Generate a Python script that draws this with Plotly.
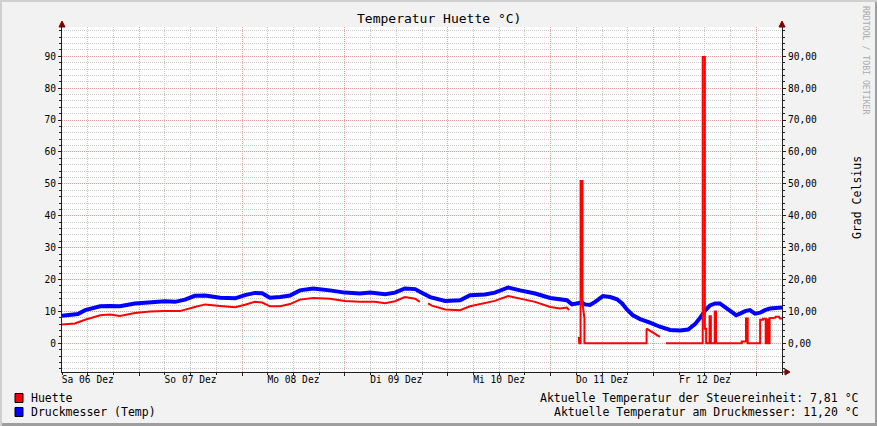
import plotly.graph_objects as go

# ---------------- data (x = hours since Sa 06 Dez 00:00) ----------------
huette_h = [6.0, 9.0, 11.4, 14.9, 17.2, 19.5, 23.0, 26.5, 30.0, 33.5, 37.0, 39.4, 42.9, 46.4,
            48.7, 51.0, 52.7, 54.5, 56.9, 59.2, 61.5, 64.6, 68.5, 72.0, 75.5, 79.0, 81.4,
            83.7, 86.0, 88.4, 89.5, None,
            91.4, 92.3, 95.4, 98.9, 101.2, 104.7, 107.0, 110.1, 112.9, 116.4, 119.9, 122.2,
            123.8, 124.3, None,
            126.6, 126.7, 127.0, 127.0, 127.45, 127.45, 127.9, 127.9, 142.4, 142.4, 145.5, None,
            146.9, 155.5, 155.5, 156.0, 156.0, 156.3, 156.3, 157.1, 157.1, 157.4, 157.4,
            158.3, 158.3, 158.6, 158.6, 164.6, 164.6, 165.6, 165.6, 166.0, 166.0,
            168.9, 168.9, 169.6, 169.6, 170.2, 170.2, 170.4, 170.4, 170.8, 170.8, 171.1,
            171.1, 172.4, 172.5, 173.3, 173.5, 174.0]
huette_v = [5.9, 6.2, 7.4, 8.8, 9.0, 8.6, 9.5, 10.0, 10.1, 10.1, 11.4, 12.2, 11.7, 11.3,
            12.1, 13.0, 12.8, 11.6, 11.6, 12.3, 13.7, 14.2, 14.0, 13.3, 13.0, 13.0, 12.6,
            13.2, 14.5, 14.0, 13.0, None,
            12.5, 11.8, 10.6, 10.4, 11.6, 12.6, 13.3, 14.8, 14.0, 13.0, 11.4, 10.9,
            11.2, 10.4, None,
            2.0, 0.0, 0.0, 50.9, 50.9, 12.5, 7.8, 0.0, 0.0, 4.6, 2.0, None,
            0.0, 0.0, 89.8, 89.8, 4.6, 4.6, 0.0, 0.0, 8.5, 8.5, 0.0,
            0.0, 10.0, 10.0, 0.0, 0.0, 0.6, 0.6, 7.8, 7.8, 0.0,
            0.0, 7.4, 7.4, 7.7, 7.7, 0.0, 0.0, 7.5, 7.5, 0.0, 0.0,
            7.9, 8.0, 8.3, 8.3, 7.8, 7.8]

druck_h = [6.0, 7.9, 9.7, 11.4, 13.0, 14.9, 17.2, 19.5, 23.0, 26.5, 30.0, 32.4, 34.7, 37.0,
           39.4, 42.9, 46.4, 48.7, 51.0, 52.7, 54.5, 56.9, 59.2, 61.5, 64.6, 68.5, 72.0,
           75.5, 77.9, 81.4, 83.7, 86.0, 88.4, 89.5, 91.9, 95.4, 98.9, 101.2, 104.7, 107.0,
           110.1, 112.9, 116.4, 119.9, 122.2, 123.8, 125.0, 126.2, 127.3, 128.0, 129.2,
           130.4, 132.2, 133.9, 135.5, 136.7, 137.8, 139.2, 140.9, 143.2, 145.5, 147.9,
           150.2, 152.1, 153.7, 154.9, 156.0, 157.2, 158.4, 159.5, 160.7, 161.9, 163.3,
           164.2, 165.4, 166.5, 167.7, 168.9, 170.0, 171.2, 172.6, 174.0]
druck_v = [8.6, 8.8, 9.2, 10.4, 11.0, 11.6, 11.7, 11.6, 12.5, 12.9, 13.2, 13.0, 13.7, 14.9,
           15.0, 14.3, 14.1, 15.1, 15.8, 15.7, 14.3, 14.5, 15.0, 16.6, 17.2, 16.6, 15.9,
           15.6, 15.9, 15.4, 15.9, 17.2, 17.0, 16.2, 14.5, 13.3, 13.5, 15.1, 15.3, 15.9,
           17.5, 16.6, 15.6, 14.2, 13.8, 13.5, 12.2, 12.6, 12.8, 12.2, 12.0,
           13.0, 14.8, 14.5, 13.8, 12.5, 10.6, 8.8, 7.6, 6.5, 5.2, 4.2,
           4.0, 4.3, 6.0, 8.0, 10.2, 11.9, 12.5, 12.5, 11.4, 10.1, 8.8,
           9.3, 10.1, 10.4, 9.3, 9.6, 10.4, 10.9, 11.1, 11.2]

day_label_h = [12, 36, 60, 84, 108, 132, 156]
day_labels = ["Sa 06 Dez", "So 07 Dez", "Mo 08 Dez", "Di 09 Dez",
              "Mi 10 Dez", "Do 11 Dez", "Fr 12 Dez"]
y_ticks = [0, 10, 20, 30, 40, 50, 60, 70, 80, 90]
y_left_labels = ["0", "10", "20", "30", "40", "50", "60", "70", "80", "90"]
y_right_labels = ["0,00", "10,00", "20,00", "30,00", "40,00",
                  "50,00", "60,00", "70,00", "80,00", "90,00"]
x_range = [6, 174]
y_range = [-9.0, 99.2]

title_text = "Temperatur Huette °C)"
legend_names = ["Huette", "Druckmesser (Temp)"]
legend_colors = ["#FF0000", "#0000FF"]
info_lines = ["Aktuelle Temperatur der Steuereinheit: 7,81 °C",
              "Aktuelle Temperatur am Druckmesser: 11,20 °C"]

# ---------------- styling ----------------
W, H = 877, 426
ML, MR, MT, MB = 62, 95, 27, 54
PW, PH = W - ML - MR, H - MT - MB
MONO = "DejaVu Sans Mono"
AXIS = "#212121"
ARROW = "#800000"
GRID = "rgb(200,200,200)"
MGRID = "rgb(232,160,160)"
DOT = "1px,1px"


def PX(x):
    return (x - ML) / PW


def PY(y):
    return (H - MB - y) / PH


fig = go.Figure()
# Druckmesser on the main axes (x, y); Huette on the twin axes (x2, y2) with identical ranges
fig.add_trace(go.Scatter(x=druck_h, y=druck_v, mode="lines", name=legend_names[1],
                         line=dict(color=legend_colors[1], width=4), connectgaps=False,
                         xaxis="x", yaxis="y"))
fig.add_trace(go.Scatter(x=huette_h, y=huette_v, mode="lines", name=legend_names[0],
                         line=dict(color=legend_colors[0], width=2), connectgaps=False,
                         xaxis="x2", yaxis="y2"))

fig.update_layout(
    width=W, height=H,
    margin=dict(l=ML, r=MR, t=MT, b=MB, pad=0),
    paper_bgcolor="#F2F2F2", plot_bgcolor="#FFFFFF",
    showlegend=False,
    font=dict(family=MONO, size=9.6, color="#000000"),
    xaxis=dict(range=x_range, tickmode="linear", tick0=0, dtick=24,
               showgrid=True, gridcolor=MGRID, griddash=DOT, gridwidth=1,
               showticklabels=False, ticks="outside", ticklen=3, tickcolor=AXIS,
               showline=True, linecolor=AXIS, linewidth=1, zeroline=False,
               minor=dict(tickmode="linear", tick0=0, dtick=6, showgrid=True,
                          gridcolor=GRID, griddash=DOT, gridwidth=1,
                          ticks="outside", ticklen=2, tickcolor=AXIS)),
    xaxis2=dict(range=x_range, overlaying="x", anchor="y2", side="bottom",
                tickmode="array", tickvals=day_label_h, ticktext=day_labels,
                showgrid=False, ticks="", showline=False, zeroline=False,
                tickfont=dict(family=MONO, size=9.6, color="#000000")),
    yaxis=dict(range=y_range, tickmode="array", tickvals=y_ticks, ticktext=y_left_labels,
               showgrid=True, gridcolor=MGRID, griddash=DOT, gridwidth=1,
               ticks="outside", ticklen=3, tickcolor=AXIS,
               showline=True, linecolor=AXIS, linewidth=1, zeroline=False,
               minor=dict(tickmode="linear", tick0=0, dtick=2, showgrid=True,
                          gridcolor=GRID, griddash=DOT, gridwidth=1,
                          ticks="outside", ticklen=2, tickcolor=AXIS)),
    yaxis2=dict(range=y_range, overlaying="y", anchor="x2", side="right",
                tickmode="array", tickvals=y_ticks, ticktext=y_right_labels,
                showgrid=False, ticks="outside", ticklen=3, tickcolor=AXIS,
                showline=True, linecolor=AXIS, linewidth=1, zeroline=False,
                minor=dict(tickmode="linear", tick0=0, dtick=2, showgrid=False,
                           ticks="outside", ticklen=2, tickcolor=AXIS)),
)

shapes = []
# canvas shading border
shapes.append(dict(type="rect", xref="paper", yref="paper", x0=PX(0), x1=PX(W), y0=PY(0), y1=PY(2),
                   fillcolor="#CFCFCF", line=dict(width=0), layer="above"))
shapes.append(dict(type="rect", xref="paper", yref="paper", x0=PX(0), x1=PX(2), y0=PY(0), y1=PY(H),
                   fillcolor="#CFCFCF", line=dict(width=0), layer="above"))
shapes.append(dict(type="rect", xref="paper", yref="paper", x0=PX(2), x1=PX(W), y0=PY(H - 3), y1=PY(H),
                   fillcolor="#9E9E9E", line=dict(width=0), layer="above"))
shapes.append(dict(type="rect", xref="paper", yref="paper", x0=PX(W - 2), x1=PX(W), y0=PY(2), y1=PY(H),
                   fillcolor="#9E9E9E", line=dict(width=0), layer="above"))
# axis arrows
for ax_x in (0, 1):
    shapes.append(dict(type="path", xref="paper", yref="paper", xsizemode="pixel", ysizemode="pixel",
                       xanchor=ax_x, yanchor=1, path="M -3,0 L 3,0 L 0,6 Z",
                       fillcolor=ARROW, line=dict(color=ARROW, width=1), layer="above"))
shapes.append(dict(type="path", xref="paper", yref="paper", xsizemode="pixel", ysizemode="pixel",
                   xanchor=1, yanchor=0, path="M 3,-3 L 3,3 L 8,0 Z",
                   fillcolor=ARROW, line=dict(color=ARROW, width=1), layer="above"))
shapes.append(dict(type="line", xref="paper", yref="paper", x0=1, x1=PX(ML + PW + 3), y0=0, y1=0,
                   line=dict(color=AXIS, width=1), layer="above"))
# legend swatches
for i, c in enumerate(legend_colors):
    yc = 398 + 14 * i
    shapes.append(dict(type="rect", xref="paper", yref="paper", x0=PX(15), x1=PX(23),
                       y0=PY(yc - 4.5), y1=PY(yc + 4.5), fillcolor=c,
                       line=dict(color="#000000", width=1), layer="above"))
fig.update_layout(shapes=shapes)

ann = []
ann.append(dict(text=title_text, xref="paper", yref="paper", x=PX(W / 2), y=PY(19),
                xanchor="center", yanchor="middle", showarrow=False,
                font=dict(family=MONO, size=13, color="#000000")))
ann.append(dict(text="RRDTOOL / TOBI OETIKER", xref="paper", yref="paper", x=PX(866), y=PY(60),
                xanchor="center", yanchor="middle", showarrow=False, textangle=90,
                font=dict(family=MONO, size=8.2, color="#ABABAB")))
ann.append(dict(text="Grad Celsius", xref="paper", yref="paper", x=PX(857), y=PY(198),
                xanchor="center", yanchor="middle", showarrow=False, textangle=-90,
                font=dict(family=MONO, size=11.5, color="#000000")))
for i, name in enumerate(legend_names):
    ann.append(dict(text=name, xref="paper", yref="paper", x=PX(29), y=PY(398 + 14 * i),
                    xanchor="left", yanchor="middle", showarrow=False,
                    font=dict(family=MONO, size=11.5, color="#000000")))
for i, line in enumerate(info_lines):
    ann.append(dict(text=line, xref="paper", yref="paper", x=PX(861), y=PY(398 + 14 * i),
                    xanchor="right", yanchor="middle", showarrow=False,
                    font=dict(family=MONO, size=11.5, color="#000000")))
fig.update_layout(annotations=ann)

fig.write_html("out.html", config={"displayModeBar": False},
               post_script="document.body.style.margin='0';")
